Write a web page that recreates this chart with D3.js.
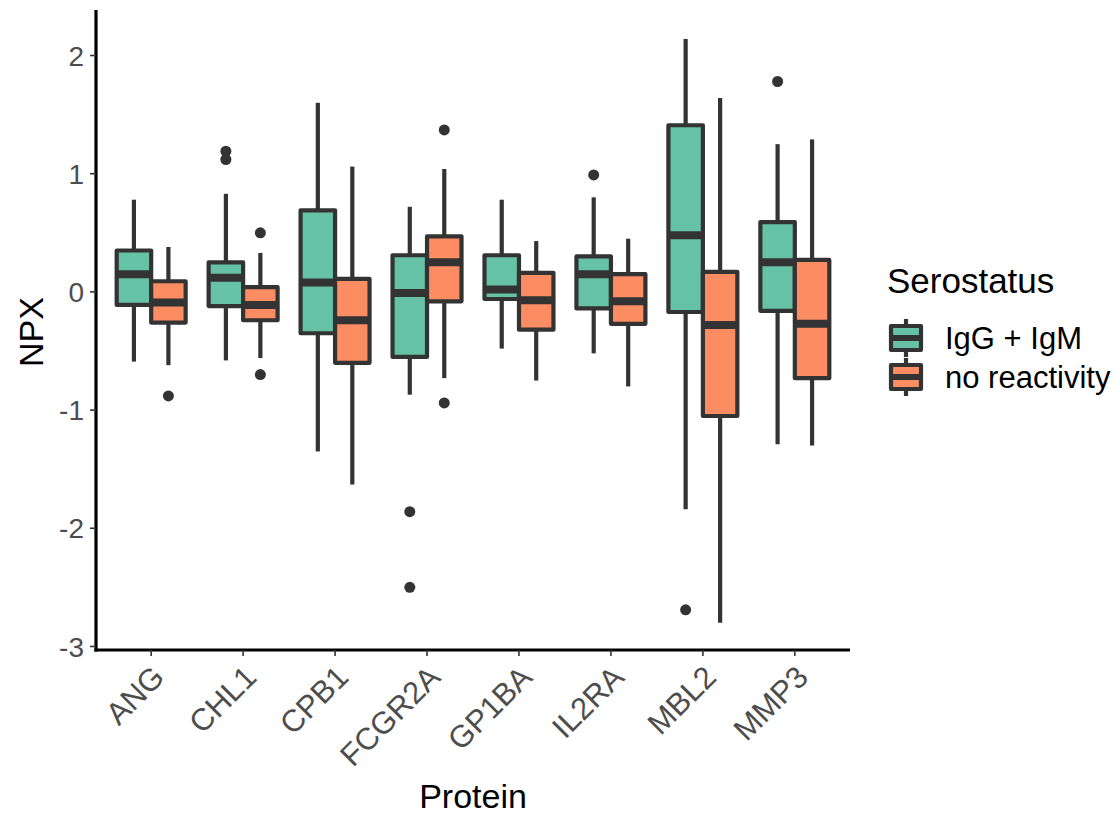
<!DOCTYPE html>
<html>
<head>
<meta charset="utf-8">
<script src="https://cdn.jsdelivr.net/npm/d3@7/dist/d3.min.js"></script>
<style>
  html, body { margin: 0; padding: 0; background: #fff; }
  svg { display: block; font-family: "Liberation Sans", Arial, sans-serif; }
</style>
</head>
<body>
<svg id="chart" width="1116" height="815"></svg>
<script>
// ---- data ----
const proteins = ["ANG", "CHL1", "CPB1", "FCGR2A", "GP1BA", "IL2RA", "MBL2", "MMP3"];
const groups = ["IgG + IgM", "no reactivity"];
const groupColors = ["#66C2A5", "#FC8D62"];
const yTicks = [-3, -2, -1, 0, 1, 2];

// IgG + IgM
const igLow    = [-0.59, -0.58, -1.35, -0.87, -0.48, -0.52, -1.84, -1.29];
const igQ1     = [-0.11, -0.12, -0.35, -0.55, -0.06, -0.14, -0.17, -0.16];
const igMedian = [ 0.15,  0.12,  0.08, -0.01,  0.02,  0.15,  0.48,  0.25];
const igQ3     = [ 0.35,  0.25,  0.69,  0.31,  0.31,  0.30,  1.41,  0.59];
const igHigh   = [ 0.78,  0.83,  1.60,  0.72,  0.78,  0.80,  2.14,  1.25];
const igOut    = [[], [1.19, 1.12], [], [-1.86, -2.50], [], [0.99], [-2.69], [1.78]];

// no reactivity
const noLow    = [-0.62, -0.56, -1.63, -0.73, -0.75, -0.80, -2.80, -1.30];
const noQ1     = [-0.26, -0.24, -0.60, -0.08, -0.32, -0.27, -1.05, -0.73];
const noMedian = [-0.09, -0.11, -0.24,  0.25, -0.07, -0.08, -0.28, -0.27];
const noQ3     = [ 0.09,  0.04,  0.11,  0.47,  0.16,  0.15,  0.17,  0.27];
const noHigh   = [ 0.38,  0.33,  1.06,  1.04,  0.43,  0.45,  1.64,  1.29];
const noOut    = [[-0.88], [0.50, -0.70], [], [1.37, -0.94], [], [], [], []];

const series = [
  {group: groups[0], color: groupColors[0], low: igLow, q1: igQ1, med: igMedian, q3: igQ3, high: igHigh, out: igOut},
  {group: groups[1], color: groupColors[1], low: noLow, q1: noQ1, med: noMedian, q3: noQ3, high: noHigh, out: noOut}
];

// ---- layout ----
const svg = d3.select("#chart");
const panel = {left: 96, right: 850, top: 10, bottom: 650};
const ink = "#333333";
const lw = 4.2;

// discrete scale with 0.6 unit expansion on each side
const x = d3.scalePoint().domain(proteins)
  .range([panel.left + 0.6 * (panel.right - panel.left) / 8.2,
          panel.right - 0.6 * (panel.right - panel.left) / 8.2]);
const step = x.step();
const boxW = step * 0.375;

const y = d3.scaleLinear().domain([-3.03, 2.385]).range([panel.bottom, panel.top]);

const g = svg.append("g");

series.forEach((s, si) => {
  const off = (si === 0 ? -1 : 1) * boxW / 2;
  proteins.forEach((p, i) => {
    const cx = x(p) + off;
    const gg = g.append("g");
    gg.append("line").attr("x1", cx).attr("x2", cx)
      .attr("y1", y(s.high[i])).attr("y2", y(s.q3[i]))
      .attr("stroke", ink).attr("stroke-width", lw);
    gg.append("line").attr("x1", cx).attr("x2", cx)
      .attr("y1", y(s.q1[i])).attr("y2", y(s.low[i]))
      .attr("stroke", ink).attr("stroke-width", lw);
    gg.append("rect")
      .attr("x", cx - boxW / 2).attr("width", boxW)
      .attr("y", y(s.q3[i])).attr("height", y(s.q1[i]) - y(s.q3[i]))
      .attr("fill", s.color).attr("stroke", ink).attr("stroke-width", lw)
      .attr("stroke-linejoin", "round");
    gg.append("line").attr("x1", cx - boxW / 2).attr("x2", cx + boxW / 2)
      .attr("y1", y(s.med[i])).attr("y2", y(s.med[i]))
      .attr("stroke", ink).attr("stroke-width", 8);
    s.out[i].forEach(v => {
      gg.append("circle").attr("cx", cx).attr("cy", y(v)).attr("r", 5.5).attr("fill", ink);
    });
  });
});

// ---- axes ----
const axisG = svg.append("g");
axisG.append("line").attr("x1", panel.left).attr("x2", panel.left)
  .attr("y1", panel.top).attr("y2", panel.bottom + 1.5)
  .attr("stroke", "#000").attr("stroke-width", 3.2);
axisG.append("line").attr("x1", panel.left - 1.6).attr("x2", panel.right)
  .attr("y1", panel.bottom).attr("y2", panel.bottom)
  .attr("stroke", "#000").attr("stroke-width", 3.2);

yTicks.forEach(t => {
  axisG.append("line").attr("x1", panel.left - 6).attr("x2", panel.left)
    .attr("y1", y(t)).attr("y2", y(t)).attr("stroke", ink).attr("stroke-width", 1.6);
  axisG.append("text").attr("x", panel.left - 12).attr("y", y(t))
    .attr("dy", "0.36em").attr("text-anchor", "end")
    .attr("font-size", 28).attr("fill", "#4D4D4D").text(t);
});

proteins.forEach(p => {
  const cx = x(p);
  axisG.append("line").attr("x1", cx).attr("x2", cx)
    .attr("y1", panel.bottom).attr("y2", panel.bottom + 6)
    .attr("stroke", ink).attr("stroke-width", 1.6);
  axisG.append("text")
    .attr("transform", `translate(${cx + 15},${panel.bottom + 29}) rotate(-45)`)
    .attr("text-anchor", "end")
    .attr("font-size", 31).attr("fill", "#4D4D4D").text(p);
});

// axis titles
svg.append("text").attr("x", (panel.left + panel.right) / 2).attr("y", 808)
  .attr("text-anchor", "middle").attr("font-size", 34).attr("fill", "#000").text("Protein");
svg.append("text").attr("transform", `translate(43,332) rotate(-90)`)
  .attr("text-anchor", "middle").attr("font-size", 34).attr("fill", "#000").text("NPX");

// ---- legend ----
const leg = svg.append("g");
leg.append("text").attr("x", 887).attr("y", 293)
  .attr("font-size", 35).attr("fill", "#000").text("Serostatus");
groups.forEach((gname, k) => {
  const cy = 338 + k * 39;
  const kx = 906;
  leg.append("line").attr("x1", kx).attr("x2", kx).attr("y1", cy - 19).attr("y2", cy + 19)
    .attr("stroke", ink).attr("stroke-width", lw);
  leg.append("rect").attr("x", kx - 15).attr("width", 30).attr("y", cy - 12).attr("height", 24)
    .attr("fill", groupColors[k]).attr("stroke", ink).attr("stroke-width", lw)
    .attr("stroke-linejoin", "round");
  leg.append("line").attr("x1", kx - 15).attr("x2", kx + 15).attr("y1", cy).attr("y2", cy)
    .attr("stroke", ink).attr("stroke-width", 6);
  leg.append("text").attr("x", 945).attr("y", cy).attr("dy", "0.36em")
    .attr("font-size", 31).attr("fill", "#000").text(gname);
});
</script>
</body>
</html>
